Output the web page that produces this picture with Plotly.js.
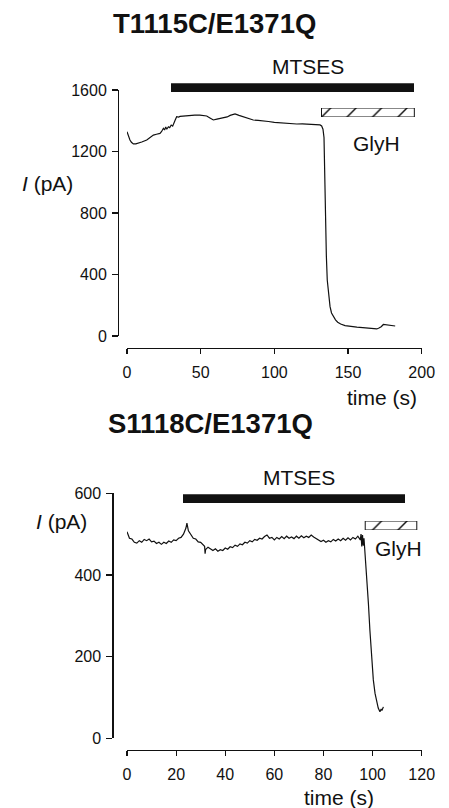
<!DOCTYPE html>
<html>
<head>
<meta charset="utf-8">
<script src="https://cdn.plot.ly/plotly-3.0.1.min.js"></script>
<style>html,body{margin:0;padding:0;background:#fff;}#chart{width:449px;height:808px;}</style>
</head>
<body>
<div id="chart"></div>
<script>
// ---- Data: top panel (T1115C/E1371Q) ----
var topTime = [0,1,2,3,4.3,6,7.7,10,13.4,16,17.9,20,22.4,23.5,24.7,25.5,26.3,27,28.1,29,30,31,31.5,32.5,33.7,35,36,38,40,42.8,46,49.5,52,54.1,56,58.6,61,63,65.4,68,70,73.3,76,78.9,82,85.7,89,92.5,96,100,103.8,108,112,115.2,119,122,126.4,129,131,132.1,133,133.7,134.2,134.8,135.3,135.9,136.5,137.2,137.8,138.8,140,141.5,143,145,148,152,156,160,164,168,169.5,171,172.5,174,176,178,180,182];
var topCurrent = [1329,1300,1275,1260,1249,1250,1253,1262,1275,1292,1307,1312,1318,1330,1351,1340,1360,1345,1361,1355,1372,1365,1380,1400,1426,1424,1428,1430,1433,1437,1436,1437,1435,1431,1420,1405,1410,1414,1416,1425,1435,1444,1435,1426,1415,1405,1402,1400,1395,1390,1387,1384,1381,1379,1380,1378,1379,1376,1373,1366,1345,1290,1000,690,520,364,290,230,191,150,126,105,90,78,68,62,58,55,52,48,46,52,60,75,72,70,66,65];
var topMTSES = [30, 195];   // start, end (s)
var topGlyH = [132, 195];   // start, end (s)
var topXTicks = [0, 50, 100, 150, 200];
var topYTicks = [0, 400, 800, 1200, 1600];

// ---- Data: bottom panel (S1118C/E1371Q) ----
var botTime = [0,1,2,3,4,5,6,7,8,9,10,11,12,13,14,15,16,17,18,19,20,21,22,23,24,24.4,25,26,27,28,29,30,31,31.6,31.8,32,33,34,35,36,37,38,39,40,41,42,43,44,45,46,47,48,49,50,51,52,53,54,55,56,57,58,59,60,61,62,63,64,65,66,67,68,69,70,71,72,73,74,75,76,77,78,79,80,81,82,83,84,85,86,87,88,89,90,91,92,93,94,95,95.3,95.6,95.9,96.2,96.5,96.8,97,97.6,98.3,98.9,99.6,100.3,101,101.7,102.3,103,103.5,103.8,104.4];
var botCurrent = [506,490,488,480,478,484,480,487,484,488,481,483,477,480,475,480,477,483,480,486,484,490,492,500,515,527,508,498,490,488,481,480,474,470,452,462,468,463,460,464,458,462,460,466,463,469,467,473,470,476,474,480,478,484,481,487,485,490,488,494,498,490,492,486,492,488,494,489,495,490,493,489,495,490,496,491,495,492,498,493,489,486,482,485,480,484,481,487,483,488,484,490,485,491,486,492,488,495,486,500,470,498,472,490,465,461,404,330,265,200,143,110,86,74,65,72,68,77];
var botMTSES = [23, 113];
var botGlyH = [97, 118];
var botXTicks = [0, 20, 40, 60, 80, 100, 120];
var botYTicks = [0, 200, 400, 600];

// ---- layout helpers (pixel -> paper) ----
var W = 449, H = 808;
function px(x){ return x / W; }
function py(y){ return 1 - y / H; }
var FONT = 'Liberation Sans, Arial, Helvetica, sans-serif';
var INK = '#111';

function barTrace(range, xa, ya, hatched){
  var t = {
    type: 'bar', orientation: 'h',
    y: [0], base: [range[0]], x: [range[1] - range[0]], width: [1],
    xaxis: xa, yaxis: ya, hoverinfo: 'skip', showlegend: false,
    marker: {color: hatched ? 'white' : INK, line: {color: INK, width: hatched ? 1 : 0}}
  };
  if (hatched) t.marker.pattern = {shape: '/', size: 18, solidity: 0.08, fgcolor: INK, bgcolor: 'white'};
  return t;
}

var traces = [
  {type:'scatter', mode:'lines', x: topTime, y: topCurrent, xaxis:'x', yaxis:'y',
   line:{color: INK, width: 1.2}, hoverinfo:'skip', showlegend:false},
  {type:'scatter', mode:'lines', x: botTime, y: botCurrent, xaxis:'x2', yaxis:'y2',
   line:{color: INK, width: 1.2}, hoverinfo:'skip', showlegend:false},
  barTrace(topMTSES, 'x', 'y3', false),
  barTrace(topGlyH, 'x', 'y4', true),
  barTrace(botMTSES, 'x2', 'y5', false),
  barTrace(botGlyH, 'x2', 'y6', true)
];

function xAxis(range, ticks, posY){
  return {domain:[px(127), px(421.7)], range: range, anchor:'free', position: py(posY),
    tickvals: ticks, ticks:'outside', ticklen:5, tickwidth:1.2, tickcolor: INK,
    ticklabelstandoff: 4,
    showline:true, linecolor: INK, linewidth:1.3, showgrid:false, zeroline:false,
    tickfont:{family: FONT, size:16, color: INK}, fixedrange:true};
}
function yAxis(range, ticks, posX, top, bottom){
  return {domain:[py(bottom), py(top)], range: range, anchor:'free', position: px(posX),
    tickvals: ticks, ticks:'outside', ticklen:6, tickwidth:1.2, tickcolor: INK,
    ticklabelstandoff: 2,
    showline:true, linecolor: INK, linewidth:1.3, showgrid:false, zeroline:false,
    tickfont:{family: FONT, size:16, color: INK}, fixedrange:true};
}
function hiddenY(top, bottom, anchor){
  return {domain:[py(bottom), py(top)], range:[-0.5, 0.5], anchor: anchor, visible:false, fixedrange:true};
}

function ann(text, x, y, size, opts){
  var a = {text: text, x: px(x), y: py(y), xref:'paper', yref:'paper', showarrow:false,
    xanchor:'center', yanchor:'middle', font:{family: FONT, size: size, color: INK}};
  if (opts) for (var k in opts) a[k] = opts[k];
  return a;
}

var layout = {
  width: W, height: H, margin:{l:0, r:0, t:0, b:0},
  paper_bgcolor:'white', plot_bgcolor:'rgba(0,0,0,0)',
  showlegend:false, bargap:0,
  xaxis: xAxis([0, 200], topXTicks, 348),
  yaxis: yAxis([0, 1600], topYTicks, 118, 90, 336),
  xaxis2: xAxis([0, 120], botXTicks, 750),
  yaxis2: yAxis([0, 600], botYTicks, 112.3, 493.3, 738.3),
  yaxis3: hiddenY(83.3, 92.3, 'x'),
  yaxis4: hiddenY(108, 117, 'x'),
  yaxis5: hiddenY(494.3, 503.3, 'x2'),
  yaxis6: hiddenY(521, 530, 'x2'),
  annotations: [
    ann('<b>T1115C/E1371Q</b>', 214.5, 23, 27.5),
    ann('<b>S1118C/E1371Q</b>', 210.3, 423, 27.5),
    ann('MTSES', 307.5, 67, 21),
    ann('MTSES', 299, 477, 21),
    ann('GlyH', 376, 143, 21),
    ann('GlyH', 398, 548, 21),
    ann('time (s)', 381.5, 397, 21),
    ann('time (s)', 339, 797, 21),
    ann('<i>I</i> (pA)', 75, 183.5, 21, {xanchor:'right'}),
    ann('<i>I</i> (pA)', 89, 521.5, 21, {xanchor:'right'})
  ]
};

Plotly.newPlot('chart', traces, layout, {staticPlot:true, displayModeBar:false});
</script>
</body>
</html>
